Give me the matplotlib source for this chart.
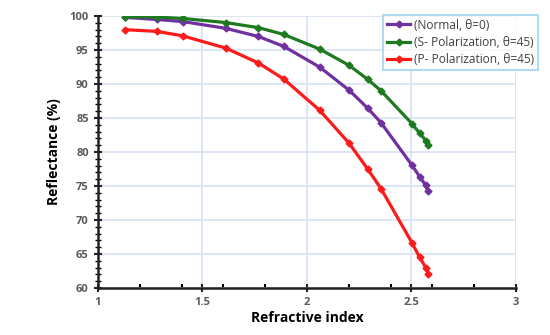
import numpy as np
import matplotlib.pyplot as plt
from matplotlib.ticker import MultipleLocator

# refractive index values (shared x)
n_index = [1.132, 1.281, 1.405, 1.611, 1.768, 1.889, 2.061, 2.202,
           2.291, 2.355, 2.502, 2.539, 2.569, 2.580]

normal = [99.8, 99.5, 99.2, 98.2, 97.0, 95.55, 92.5, 89.1,
          86.45, 84.3, 78.1, 76.4, 75.1, 74.25]
s_pol = [99.9, 99.85, 99.65, 99.05, 98.3, 97.3, 95.15, 92.75,
         90.7, 89.0, 84.2, 82.8, 81.7, 81.1]
p_pol = [98.0, 97.75, 97.1, 95.3, 93.1, 90.75, 86.15, 81.3,
         77.5, 74.6, 66.7, 64.55, 63.0, 62.1]

labels = ["(Normal, \u03b8=0)", "(S- Polarization, \u03b8=45)", "(P- Polarization, \u03b8=45)"]
colors = ["#7030A0", "#1E7A1E", "#FF1A1A"]

plt.rcParams["font.family"] = ["Open Sans", "DejaVu Sans"]

fig = plt.figure(figsize=(5.5, 3.35), dpi=100)
ax = fig.add_axes([0.178, 0.14, 0.76, 0.812])

for ys, lab, c in zip([normal, s_pol, p_pol], labels, colors):
    ax.plot(n_index, ys, "-", color=c, lw=2.3, marker="D", ms=3.5,
            mec=c, mfc=c, label=lab, zorder=3)

ax.set_xlim(1, 3)
ax.set_ylim(60, 100)
ax.xaxis.set_major_locator(MultipleLocator(0.5))
ax.xaxis.set_minor_locator(MultipleLocator(0.2))
ax.yaxis.set_major_locator(MultipleLocator(5))
ax.yaxis.set_minor_locator(MultipleLocator(1))
ax.xaxis.set_major_formatter(plt.FuncFormatter(lambda v, p: f"{v:g}"))

ax.grid(True, which="major", color="#D6E2F3", lw=1.2, zorder=0)
for s in ["top", "right"]:
    ax.spines[s].set_visible(False)
for s in ["left", "bottom"]:
    ax.spines[s].set_linewidth(1.8)
    ax.spines[s].set_color("#222222")

ax.tick_params(axis="both", which="major", direction="inout", length=6,
               width=1.5, labelsize=8, labelcolor="#555555", colors="#222222")
ax.tick_params(axis="y", which="minor", direction="inout", length=4, width=1)
ax.tick_params(axis="x", which="minor", direction="in", length=3, width=1.5)
for lbl in ax.get_xticklabels() + ax.get_yticklabels():
    lbl.set_fontweight("bold")
    lbl.set_color("#595959")

ax.set_xlabel("Refractive index", fontsize=10, fontweight="bold", labelpad=2)
ax.set_ylabel("Reflectance (%)", fontsize=10, fontweight="bold", labelpad=6)

leg = ax.legend(loc="upper left", bbox_to_anchor=(383 / 550, 1 - 15 / 335),
                bbox_transform=fig.transFigure, fontsize=8.6, frameon=True,
                fancybox=False, edgecolor="#9DD3F0", handlelength=2.0,
                handletextpad=0.3, borderpad=0.3, labelspacing=0.35,
                borderaxespad=0)
leg.get_frame().set_linewidth(1.5)
for t in leg.get_texts():
    t.set_color("#404040")

fig.savefig("out.png", dpi=100)
